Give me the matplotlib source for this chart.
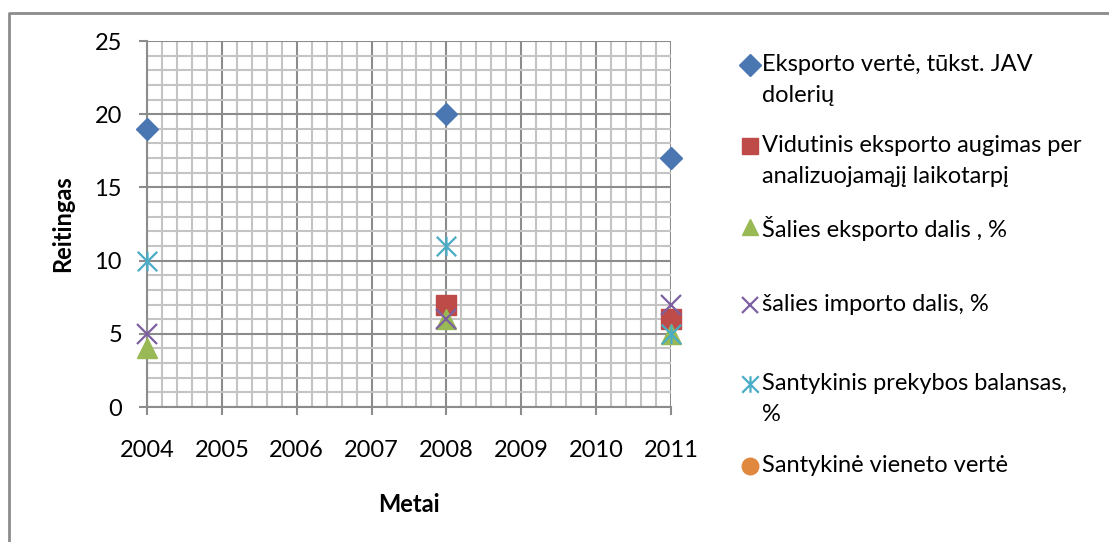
""" Eksporto reitingų taškinė diagrama, 2004-2011 m. """

import matplotlib
matplotlib.use('Agg')
import matplotlib.pyplot as plt
from matplotlib.path import Path
from matplotlib.lines import Line2D
from matplotlib.ticker import MultipleLocator

plt.rcParams['font.family'] = ['Lato', 'DejaVu Sans']

# duomenys
years = [2004, 2008, 2011]
eksporto_verte = [19, 20, 17]
vidutinis_augimas = [None, 7, 6]
eksporto_dalis = [4, 6, 5]
importo_dalis = [5, 6, 7]
prekybos_balansas = [10, 11, 5]
vieneto_verte = [None, None, None]

labels = ['Eksporto vertė, tūkst. JAV\ndolerių',
          'Vidutinis eksporto augimas per\nanalizuojamąjį laikotarpį',
          'Šalies eksporto dalis , %',
          'šalies importo dalis, %',
          'Santykinis prekybos balansas,\n%',
          'Santykinė vieneto vertė']

asterisk = Path([(0, -1), (0, 1), (-1, -1), (1, 1), (-1, 1), (1, -1)],
                [Path.MOVETO, Path.LINETO] * 3)

styles = [
    dict(marker='D', ms=11, color='#4A76B2'),
    dict(marker='s', ms=14, color='#BE4B48'),
    dict(marker='^', ms=14, color='#98B954'),
    dict(marker='x', ms=14, color='#7D60A0', mew=1.6),
    dict(marker=asterisk, ms=14, color='#4BACC6', mew=1.6, fillstyle='none'),
    dict(marker='o', ms=14, color='#E0883E'),
]
series = [eksporto_verte, vidutinis_augimas, eksporto_dalis,
          importo_dalis, prekybos_balansas, vieneto_verte]

fig = plt.figure(figsize=(11.09, 5.42), dpi=100)
ax = fig.add_axes([147 / 1109, 1 - 407 / 542, 524 / 1109, 366 / 542])

for vals, st in zip(series, styles):
    pts = [(x, y) for x, y in zip(years, vals) if y is not None]
    if pts:
        xs, ys = zip(*pts)
        ax.plot(xs, ys, ls='none', clip_on=False, zorder=5, **st)

ax.set_xlim(2004, 2011)
ax.set_ylim(0, 25)
ax.xaxis.set_major_locator(MultipleLocator(1))
ax.xaxis.set_minor_locator(MultipleLocator(0.2))
ax.yaxis.set_major_locator(MultipleLocator(5))
ax.yaxis.set_minor_locator(MultipleLocator(1))
ax.grid(which='minor', color='#C4C4C4', lw=1.5)
ax.grid(which='major', color='#8C8C8C', lw=1.5)
ax.set_axisbelow(True)
ax.tick_params(which='minor', length=0)
ax.tick_params(which='major', length=6, width=1.5, color='#8C8C8C',
               labelsize=17)
ax.tick_params(axis='x', pad=18)
ax.tick_params(axis='y', pad=12)
for side in ['top', 'right']:
    ax.spines[side].set_visible(False)
for side in ['left', 'bottom']:
    ax.spines[side].set_color('#8C8C8C')
    ax.spines[side].set_linewidth(1.5)

ax.set_xlabel('Metai', fontsize=17, fontweight='bold')
ax.set_ylabel('Reitingas', fontsize=17, fontweight='bold')
ax.xaxis.set_label_coords(0.5, -0.235)
ax.yaxis.set_label_coords(-0.14, 0.5)

# legenda (kaip Excel: žymeklis prie pirmos eilutės)
leg_y = [65, 146, 227, 305, 384, 466]
for lab, st, y in zip(labels, styles, leg_y):
    fig.add_artist(Line2D([750 / 1109], [1 - y / 542], ls='none',
                          **{**st, 'ms': st['ms'] * 0.85 if st['marker'] != 'D' else st['ms']}))
    fig.text(762 / 1109, 1 - (y - 11) / 542, lab, fontsize=17, va='top',
             ha='left', linespacing=1.6)

# rėmelis
fig.add_artist(Line2D([9 / 1109, 9 / 1109, 1], [0, 1 - 13 / 542, 1 - 13 / 542],
                      color='#8C8C8C', lw=2))

plt.savefig('out.png')
